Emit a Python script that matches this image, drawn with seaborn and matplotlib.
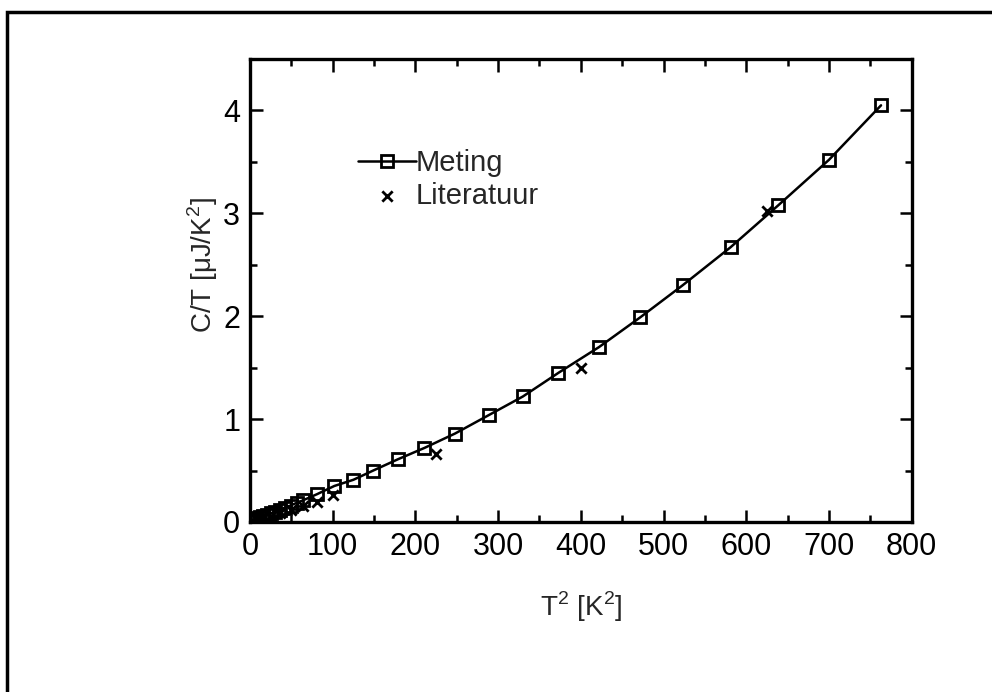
import matplotlib
matplotlib.use("Agg")
import matplotlib.pyplot as plt
from matplotlib.patches import Rectangle
from matplotlib.ticker import MultipleLocator
import seaborn as sns
import pandas as pd

# Data
meting_t2 = [1, 2.25, 4, 6.25, 9, 12.25, 16, 20.25, 25, 30.25, 36, 42.25, 49, 56.25, 64,
             81, 102, 125, 149, 179, 211, 248, 289, 330, 373, 422, 472, 523, 581, 639, 700, 763]
meting_ct = [0.01, 0.015, 0.02, 0.03, 0.035, 0.045, 0.06, 0.07, 0.085, 0.10, 0.12, 0.14, 0.16, 0.185, 0.21,
             0.27, 0.35, 0.41, 0.50, 0.61, 0.72, 0.86, 1.04, 1.22, 1.45, 1.70, 1.99, 2.30, 2.67, 3.08, 3.52, 4.05]
lit_t2 = [1, 4, 9, 16, 25, 36, 49, 64, 81, 100, 225, 400, 625]
lit_ct = [0.0, 0.01, 0.02, 0.04, 0.06, 0.09, 0.12, 0.16, 0.19, 0.26, 0.66, 1.50, 3.02]

x_label = "T$^2$ [K$^2$]"
y_label = "C/T [μJ/K$^2$]"

sns.set_theme(style="ticks")
plt.rcParams['font.family'] = ['Liberation Sans', 'DejaVu Sans']
plt.rcParams['mathtext.fontset'] = 'custom'
plt.rcParams['mathtext.rm'] = 'Liberation Sans'

fig = plt.figure(figsize=(9.92, 6.92), dpi=100)
ax = fig.add_axes([0.252, 0.2457, 0.667, 0.669])

df_m = pd.DataFrame({"x": meting_t2, "y": meting_ct})
df_l = pd.DataFrame({"x": lit_t2, "y": lit_ct})

sns.lineplot(data=df_m, x="x", y="y", ax=ax, color="black", linewidth=1.8,
             marker="s", markersize=8.5, markerfacecolor="none", markeredgecolor="black",
             markeredgewidth=2.0, label="Meting", sort=False)
sns.scatterplot(data=df_l, x="x", y="y", ax=ax, marker="x", color="black", s=55,
                linewidth=2.0, label="Literatuur", zorder=5)

ax.set_xlim(0, 800)
ax.set_ylim(0, 4.5)
ax.xaxis.set_major_locator(MultipleLocator(100))
ax.xaxis.set_minor_locator(MultipleLocator(50))
ax.yaxis.set_major_locator(MultipleLocator(1))
ax.yaxis.set_minor_locator(MultipleLocator(0.5))
ax.tick_params(which="both", direction="in", top=True, right=True, width=1.8, colors="black")
ax.tick_params(which="major", length=9, labelsize=22, pad=7)
ax.tick_params(which="minor", length=5)
for sp in ax.spines.values():
    sp.set_linewidth(2.4)
    sp.set_color("black")
    sp.set_visible(True)

ax.set_xlabel(x_label, fontsize=20, labelpad=20)
ax.set_ylabel(y_label, fontsize=20, labelpad=10)
ax.yaxis.set_label_coords(-0.045, 0.555)

leg = ax.legend(loc="upper left", bbox_to_anchor=(0.145, 0.83), frameon=False, fontsize=21,
                handlelength=2.0, handletextpad=0.0, labelspacing=0.15, borderaxespad=0)

fig.patches.append(Rectangle((0.007, -0.02), 1.0, 1.0 - 0.017 + 0.02, transform=fig.transFigure,
                             fill=False, edgecolor="black", linewidth=2.5))

fig.savefig("out.png", dpi=100, facecolor="white")
